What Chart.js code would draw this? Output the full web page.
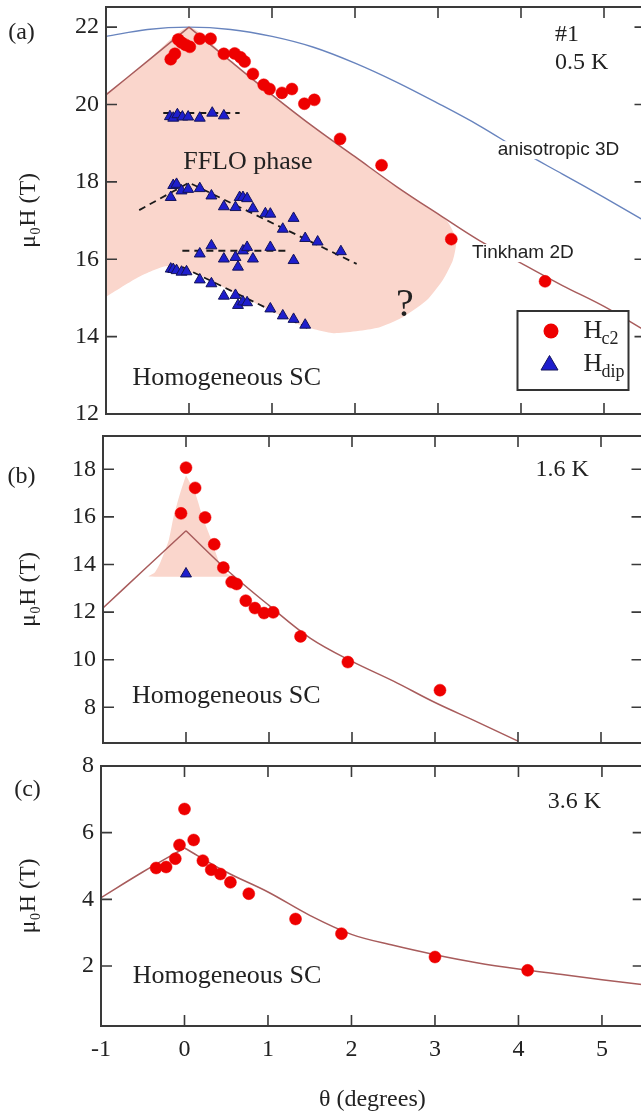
<!DOCTYPE html>
<html>
<head>
<meta charset="utf-8">
<title>Hc2 vs angle</title>
<script src="https://cdn.jsdelivr.net/npm/chart.js@4.4.1/dist/chart.umd.min.js"></script>
<style>
  html, body { margin: 0; padding: 0; background: #fff; width: 641px; height: 1118px; overflow: hidden; position: relative; }
  canvas { position: absolute; left: 0; }
</style>
</head>
<body>
<canvas id="chartA" width="660" height="457" style="top:-18px"></canvas>
<canvas id="chartB" width="660" height="357" style="top:411px"></canvas>
<canvas id="chartC" width="660" height="377" style="top:741px"></canvas>
<script>
// shared axis ticks
const xTicks = [-1, 0, 1, 2, 3, 4, 5];
const yTicksA = [12, 14, 16, 18, 20, 22];
const yTicksB = [8, 10, 12, 14, 16, 18];
const yTicksC = [2, 4, 6, 8];

// panel (a) 0.5 K
const hc2A_x = [-0.22, -0.17, -0.13, -0.09, -0.04, 0.01, 0.13, 0.26, 0.42, 0.55, 0.62, 0.67, 0.77, 0.90, 0.97, 1.12, 1.24, 1.39, 1.51, 1.82, 2.32, 3.16, 4.29];
const hc2A_y = [21.17, 21.31, 21.68, 21.60, 21.54, 21.49, 21.70, 21.70, 21.31, 21.32, 21.22, 21.11, 20.79, 20.51, 20.40, 20.30, 20.40, 20.02, 20.12, 19.11, 18.43, 16.52, 15.43];

const hdipA_x = [
  -0.23, -0.19, -0.14, -0.08, -0.01, 0.13, 0.28, 0.42,
  -0.22, -0.19, -0.15, -0.09, -0.01, 0.13, 0.27, 0.42, 0.56, 0.61, 0.65, 0.70, 0.77, 0.92, 0.98, 1.13, 1.26, 1.40, 1.55, 1.83,
  0.13, 0.27, 0.42, 0.56, 0.59, 0.65, 0.70, 0.77, 0.98, 1.26,
  -0.22, -0.19, -0.15, -0.09, -0.03, 0.13, 0.27, 0.42, 0.56, 0.59, 0.65, 0.70, 0.98, 1.13, 1.26, 1.40
];
const hdipA_y = [
  19.69, 19.65, 19.74, 19.68, 19.68, 19.65, 19.78, 19.71,
  17.60, 17.91, 17.94, 17.77, 17.81, 17.83, 17.64, 17.36, 17.34, 17.60, 17.60, 17.57, 17.31, 17.18, 17.17, 16.78, 17.06, 16.54, 16.45, 16.20,
  16.14, 16.35, 16.01, 16.05, 15.80, 16.22, 16.31, 16.01, 16.31, 15.97,
  15.75, 15.74, 15.71, 15.67, 15.68, 15.47, 15.37, 15.05, 15.07, 14.81, 14.90, 14.88, 14.72, 14.54, 14.45, 14.30
];

// dashed guides through the dip rows
const dash1_x = [-0.31, 0.61];
const dash1_y = [19.78, 19.78];
const dash2_x = [-0.6, 0.0, 2.02];
const dash2_y = [17.27, 17.98, 15.88];
const dash3_x = [-0.08, 1.22];
const dash3_y = [16.22, 16.22];
const dash4_x = [-0.08, 1.48];
const dash4_y = [15.80, 14.17];

const curveX = [-1, -0.5, 0, 0.5, 1, 1.5, 2, 2.5, 3, 3.5, 4, 4.5, 5, 5.5];
const tinkA_y = [20.25, 21.12, 22.0, 21.12, 20.25, 19.42, 18.65, 17.88, 17.17, 16.48, 15.9, 15.32, 14.78, 14.15];
const anisoA_y = [21.76, 21.94, 22.0, 21.94, 21.76, 21.48, 21.07, 20.58, 20.03, 19.45, 18.8, 18.2, 17.6, 16.98];

// FFLO region outline
const ffloA_x = [-1, -0.5, 0, 0.5, 1, 1.5, 2, 2.5, 3.1, 3.22, 3.18, 3.06, 2.87, 2.58, 2.26, 1.74, 1.34, 0.94, 0.53, 0.13, -0.27, -0.6, -1];
const ffloA_y = [20.25, 21.12, 22, 21.12, 20.25, 19.42, 18.65, 17.88, 17.01, 16.5, 15.98, 15.47, 14.95, 14.51, 14.22, 14.09, 14.30, 14.72, 15.15, 15.58, 15.82, 15.55, 15.03];

// panel (b) 1.6 K
const hc2B_x = [0.0, 0.11, -0.06, 0.23, 0.34, 0.45, 0.55, 0.61, 0.72, 0.83, 0.94, 1.05, 1.38, 1.95, 3.06];
const hc2B_y = [18.07, 17.22, 16.15, 15.98, 14.85, 13.87, 13.26, 13.18, 12.48, 12.17, 11.96, 11.99, 10.98, 9.90, 8.72];
const hdipB_x = [0.0];
const hdipB_y = [13.61];
const tinkB_x = [-1, -0.5, 0, 0.5, 1, 1.5, 2, 2.5, 3, 3.5, 4];
const tinkB_y = [12.17, 13.8, 15.42, 13.75, 12.28, 10.9, 9.93, 9.1, 8.2, 7.4, 6.58];
const ffloB_x = [0, 0.11, 0.2, 0.31, 0.41, 0.5, 0.58, -0.45, -0.38, -0.32, -0.21, -0.15, -0.07, 0];
const ffloB_y = [17.75, 17.0, 16.0, 15.0, 14.0, 13.6, 13.5, 13.5, 13.65, 14.0, 15.0, 16.0, 17.0, 17.75];

// panel (c) 3.6 K
const hc2C_x = [-0.34, -0.22, -0.11, -0.06, 0.0, 0.11, 0.22, 0.32, 0.43, 0.55, 0.77, 1.33, 1.88, 3.0, 4.11];
const hc2C_y = [4.94, 4.97, 5.22, 5.63, 6.71, 5.78, 5.16, 4.89, 4.76, 4.51, 4.17, 3.41, 2.97, 2.27, 1.87];
const tinkC_y = [4.05, 4.82, 5.54, 4.82, 4.22, 3.52, 2.95, 2.62, 2.34, 2.1, 1.91, 1.75, 1.59, 1.44];

const serif = "'Liberation Serif', 'Times New Roman', serif";
const sans = "'Liberation Sans', Arial, sans-serif";
const RED = 'rgb(238, 0, 0)';
const BLUE = 'rgb(30, 30, 205)';
const BROWN = 'rgb(168, 92, 92)';
const PINK = 'rgb(250, 214, 204)';

function pts(xs, ys) {
  return xs.map((x, i) => ({ x: x, y: ys[i] }));
}

function hc2Set(xs, ys) {
  return { data: pts(xs, ys), pointStyle: 'circle', pointRadius: 6, backgroundColor: RED, borderColor: RED, borderWidth: 0.5, order: 1 };
}
function dipSet(xs, ys) {
  return { data: pts(xs, ys), pointStyle: 'triangle', pointRadius: 6.3, backgroundColor: BLUE, borderColor: '#14145a', borderWidth: 1, order: 2 };
}
function lineSet(data, color, width, order) {
  return { data: data, showLine: true, borderColor: color, borderWidth: width, pointRadius: 0, tension: 0.35, order: order };
}
// the Tinkham curve has a cusp at 0, so each side is its own smooth branch
function tinkhamSets(xs, ys) {
  const all = pts(xs, ys);
  return [
    lineSet(all.filter(p => p.x <= 0), BROWN, 1.5, 8),
    lineSet(all.filter(p => p.x >= 0), BROWN, 1.5, 8)
  ];
}
function dashSet(xs, ys) {
  return { data: pts(xs, ys), showLine: true, borderColor: '#1a1a1a', borderWidth: 1.8, borderDash: [7, 5], pointRadius: 0, order: 3 };
}
function regionSet(xs, ys) {
  return { data: pts(xs, ys), showLine: true, fill: 'shape', backgroundColor: PINK, borderWidth: 0, borderColor: 'rgba(0,0,0,0)', pointRadius: 0, tension: 0.2, order: 10 };
}

// box frame with inward ticks on all four sides
const frameTicks = {
  id: 'frameTicks',
  afterDatasetsDraw(chart) {
    const { ctx, chartArea: a, scales: { x, y } } = chart;
    ctx.save();
    ctx.strokeStyle = '#3a3a3a';
    ctx.lineWidth = 1.6;
    ctx.beginPath();
    x.ticks.forEach(t => {
      const px = x.getPixelForValue(t.value);
      if (px < a.left + 2 || px > a.right - 2) return;
      ctx.moveTo(px, a.bottom); ctx.lineTo(px, a.bottom - 11);
      ctx.moveTo(px, a.top); ctx.lineTo(px, a.top + 11);
    });
    y.ticks.forEach(t => {
      const py = y.getPixelForValue(t.value);
      if (py < a.top + 2 || py > a.bottom - 2) return;
      ctx.moveTo(a.left, py); ctx.lineTo(a.left + 11, py);
      ctx.moveTo(a.right, py); ctx.lineTo(a.right - 11, py);
    });
    ctx.stroke();
    ctx.lineWidth = 2;
    ctx.strokeRect(a.left, a.top, a.right - a.left, a.bottom - a.top);
    ctx.restore();
  }
};

function notes(items, withLegend) {
  return {
    id: 'notes',
    afterDraw(chart) {
      const { ctx, chartArea: a, scales: { x, y } } = chart;
      ctx.save();
      ctx.textBaseline = 'middle';
      items.forEach(n => {
        ctx.font = n.font;
        ctx.textAlign = n.align || 'left';
        const px = n.px !== undefined ? n.px : x.getPixelForValue(n.x);
        const py = y.getPixelForValue(n.y);
        if (n.bg) {
          // labels sit on the curves and break them
          const w = ctx.measureText(n.text).width;
          ctx.fillStyle = '#fff';
          ctx.fillRect(px - 3, py - 9, w + 6, 18);
        }
        ctx.fillStyle = '#222';
        ctx.fillText(n.text, px, py);
      });
      if (withLegend) {
        const L = a.right - 128, T = a.bottom - 103;
        ctx.fillStyle = '#fff';
        ctx.fillRect(L, T, 111, 79);
        ctx.strokeStyle = '#333';
        ctx.lineWidth = 2;
        ctx.strokeRect(L, T, 111, 79);
        ctx.fillStyle = RED;
        ctx.beginPath();
        ctx.arc(L + 33.5, T + 20, 7.5, 0, Math.PI * 2);
        ctx.fill();
        ctx.fillStyle = BLUE;
        ctx.strokeStyle = '#14145a';
        ctx.lineWidth = 1;
        ctx.beginPath();
        ctx.moveTo(L + 32, T + 44.5);
        ctx.lineTo(L + 40.5, T + 59);
        ctx.lineTo(L + 23.5, T + 59);
        ctx.closePath();
        ctx.fill();
        ctx.stroke();
        ctx.fillStyle = '#222';
        ctx.textAlign = 'left';
        ctx.font = '26px ' + serif;
        ctx.fillText('H', L + 66, T + 20);
        ctx.fillText('H', L + 66, T + 53);
        ctx.font = '18px ' + serif;
        ctx.fillText('c2', L + 84, T + 28);
        ctx.fillText('dip', L + 84, T + 61);
      }
      ctx.restore();
    }
  };
}

function panelOptions(cfg) {
  return {
    responsive: false,
    animation: false,
    layout: { padding: cfg.padding },
    plugins: { legend: { display: false }, tooltip: { enabled: false } },
    scales: {
      x: {
        type: 'linear',
        min: -1,
        max: 5.5,
        display: cfg.showX,
        afterBuildTicks: s => { s.ticks = xTicks.map(v => ({ value: v })); },
        afterFit: s => { if (cfg.showX) s.height = 92; },
        grid: { display: false, drawTicks: false },
        border: { display: false },
        ticks: { padding: 9, color: '#222', font: { family: serif, size: 24 } },
        title: { display: cfg.showX, text: 'θ (degrees)', color: '#222', font: { family: serif, size: 24 }, padding: { top: 0, bottom: 4 } }
      },
      y: {
        type: 'linear',
        min: cfg.yMin,
        max: cfg.yMax,
        afterBuildTicks: s => { s.ticks = cfg.yTicks.map(v => ({ value: v })); },
        afterFit: s => { s.width = cfg.left; },
        grid: { display: false, drawTicks: false },
        border: { display: false },
        ticks: { padding: 7, color: '#222', font: { family: serif, size: 24 } },
        title: { display: true, text: 'μ₀H (T)', color: '#222', font: { family: serif, size: 24 }, padding: { top: 14, bottom: 0 } }
      }
    }
  };
}

new Chart(document.getElementById('chartA'), {
  type: 'scatter',
  data: {
    datasets: [
      hc2Set(hc2A_x, hc2A_y),
      dipSet(hdipA_x, hdipA_y),
      dashSet(dash1_x, dash1_y),
      dashSet(dash2_x, dash2_y),
      dashSet(dash3_x, dash3_y),
      dashSet(dash4_x, dash4_y),
      ...tinkhamSets(curveX, tinkA_y),
      lineSet(pts(curveX, anisoA_y), 'rgb(104, 132, 190)', 1.4, 9),
      regionSet(ffloA_x, ffloA_y)
    ]
  },
  options: panelOptions({ padding: { left: 0, right: 14.5, top: 25, bottom: 25 }, showX: false, yMin: 12, yMax: 22.52, yTicks: yTicksA, left: 106 }),
  plugins: [frameTicks, notes([
    { text: '(a)', px: 21.5, y: 21.85, font: '24px ' + serif, align: 'center' },
    { text: 'FFLO phase', x: -0.07, y: 18.5, font: '26px ' + serif },
    { text: 'Homogeneous SC', x: -0.68, y: 12.93, font: '26px ' + serif },
    { text: '?', x: 2.6, y: 14.8, font: '40px ' + serif, align: 'center' },
    { text: 'anisotropic 3D', x: 3.72, y: 18.82, font: '19px ' + sans, bg: true },
    { text: 'Tinkham 2D', x: 3.41, y: 16.16, font: '19px ' + sans, bg: true },
    { text: '#1', x: 4.41, y: 21.8, font: '24px ' + serif },
    { text: '0.5 K', x: 4.41, y: 21.07, font: '24px ' + serif }
  ], true)]
});

new Chart(document.getElementById('chartB'), {
  type: 'scatter',
  data: {
    datasets: [
      hc2Set(hc2B_x, hc2B_y),
      dipSet(hdipB_x, hdipB_y),
      ...tinkhamSets(tinkB_x, tinkB_y),
      regionSet(ffloB_x, ffloB_y)
    ]
  },
  options: panelOptions({ padding: { left: 0, right: 17.5, top: 25, bottom: 25 }, showX: false, yMin: 6.5, yMax: 19.4, yTicks: yTicksB, left: 103 }),
  plugins: [frameTicks, notes([
    { text: '(b)', px: 21.5, y: 17.67, font: '24px ' + serif, align: 'center' },
    { text: '1.6 K', x: 4.21, y: 18.0, font: '24px ' + serif },
    { text: 'Homogeneous SC', x: -0.65, y: 8.46, font: '26px ' + serif }
  ], false)]
});

new Chart(document.getElementById('chartC'), {
  type: 'scatter',
  data: {
    datasets: [
      hc2Set(hc2C_x, hc2C_y),
      ...tinkhamSets(curveX, tinkC_y)
    ]
  },
  options: panelOptions({ padding: { left: 0, right: 16.3, top: 25, bottom: 0 }, showX: true, yMin: 0.2, yMax: 8, yTicks: yTicksC, left: 101 }),
  plugins: [frameTicks, notes([
    { text: '(c)', px: 27.5, y: 7.28, font: '24px ' + serif, align: 'center' },
    { text: '3.6 K', x: 4.35, y: 6.92, font: '24px ' + serif },
    { text: 'Homogeneous SC', x: -0.62, y: 1.68, font: '26px ' + serif }
  ], false)]
});
</script>
</body>
</html>
